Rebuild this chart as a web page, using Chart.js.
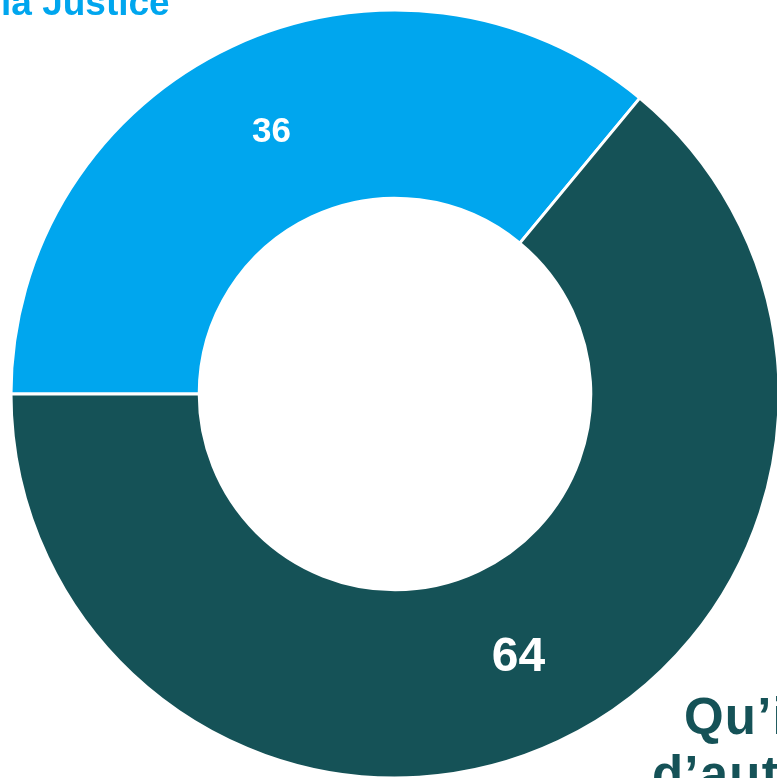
<!DOCTYPE html>
<html>
<head>
<meta charset="utf-8">
<script src="https://cdn.jsdelivr.net/npm/chart.js@4"></script>
<style>
  html, body { margin: 0; padding: 0; background: #ffffff; overflow: hidden; }
  #wrap { position: relative; width: 777px; height: 778px; }
</style>
</head>
<body>
<div id="wrap"><canvas id="donutChart" width="777" height="778"></canvas></div>
<script>
// Data
const categories = ['la Justice', 'Qu’il d’autres'];
const categoryLines = [['la Justice'], ['Qu’il', 'd’autres']];
const values = [36, 64];
const colors = ['#00A6EE', '#155257'];

// draws value labels inside the ring and the (cropped) category labels
const labelPlugin = {
    id: 'labelPlugin',
    afterDatasetsDraw(chart, args, opts) {
        const ctx = chart.ctx;
        const meta = chart.getDatasetMeta(0);
        ctx.save();
        meta.data.forEach(function (arc, i) {
            const pos = arc.tooltipPosition();
            ctx.fillStyle = '#ffffff';
            ctx.font = 'bold ' + opts.valueSizes[i] + 'px "Liberation Sans", Arial, sans-serif';
            ctx.textAlign = 'center';
            ctx.textBaseline = 'middle';
            ctx.fillText(String(values[i]), pos.x, pos.y + 1);
        });
        categoryLines.forEach(function (lines, i) {
            const p = opts.catPos[i];
            ctx.fillStyle = colors[i];
            ctx.font = 'bold ' + p.size + 'px "Liberation Sans", Arial, sans-serif';
            ctx.letterSpacing = p.spacing + 'px';
            ctx.textAlign = 'left';
            ctx.textBaseline = 'alphabetic';
            lines.forEach(function (line, j) {
                ctx.fillText(line, p.xs[j], p.y + j * p.lh);
            });
        });
        ctx.restore();
    }
};

document.addEventListener("DOMContentLoaded", function () {
    const ctx = document.getElementById('donutChart').getContext('2d');
    const donutChart = new Chart(ctx, {
        type: 'doughnut',
        data: {
            labels: categories,
            datasets: [{
                data: values,
                backgroundColor: colors,
                borderColor: '#ffffff',
                borderWidth: 3,
                hoverOffset: 0
            }]
        },
        options: {
            responsive: false,
            animation: false,
            rotation: 270,
            radius: 384,
            cutout: 194,
            layout: { padding: { left: 13, right: 0, top: 10, bottom: 0 } },
            plugins: {
                legend: { display: false },
                tooltip: { enabled: false },
                labelPlugin: {
                    valueSizes: [35, 48],
                    catPos: [
                        { xs: [1], y: 15, lh: 40, size: 37, spacing: 0 },
                        { xs: [684, 652], y: 734, lh: 58, size: 51, spacing: 1.2 }
                    ]
                }
            }
        },
        plugins: [labelPlugin]
    });
});
</script>
</body>
</html>
